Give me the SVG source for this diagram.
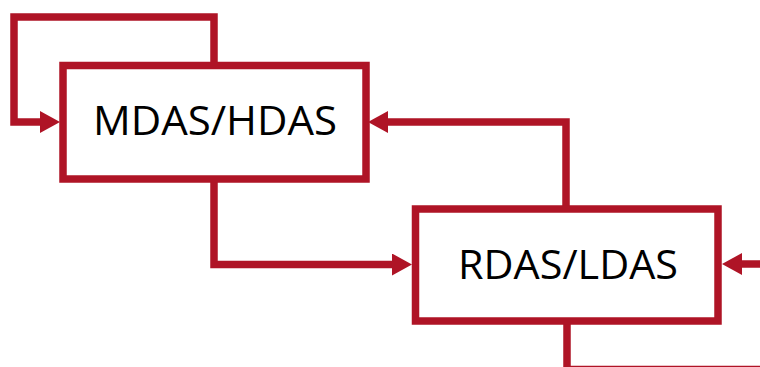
<svg xmlns="http://www.w3.org/2000/svg" width="760" height="367" viewBox="0 0 760 367">
<style>
.box{fill:#fff;stroke:#AF1426;stroke-width:7.5}
.lbl{font-family:"Open Sans","Noto Sans",sans-serif;font-size:39.5px;fill:#000;text-anchor:middle}
.con{fill:none;stroke:#AF1426;stroke-width:7.5;stroke-linejoin:miter}
</style>
<defs>
<marker id="ah" markerUnits="userSpaceOnUse" markerWidth="20" markerHeight="22" refX="0" refY="11" orient="auto" viewBox="0 0 20 22">
<path d="M0,0 L20,11 L0,22 z" fill="#AF1426"/>
</marker>
</defs>
<g id="connectors">
<path class="con" d="M214,65 V17 H14 V122 H40" marker-end="url(#ah)"/>
<path class="con" d="M566,209 V122 H388" marker-end="url(#ah)"/>
<path class="con" d="M214,179 V264.5 H392" marker-end="url(#ah)"/>
<path class="con" d="M760,264 H742" marker-end="url(#ah)"/>
<path class="con" d="M567,321 V369.5 H760"/>
</g>
<g id="mdas">
<rect class="box" x="63" y="65.5" width="303" height="113.5"/>
<text class="lbl" x="215" y="135" textLength="244" lengthAdjust="spacingAndGlyphs">MDAS/HDAS</text>
</g>
<g id="rdas">
<rect class="box" x="415.5" y="209" width="302.5" height="112"/>
<text class="lbl" x="568" y="279" textLength="220" lengthAdjust="spacingAndGlyphs">RDAS/LDAS</text>
</g>
</svg>
